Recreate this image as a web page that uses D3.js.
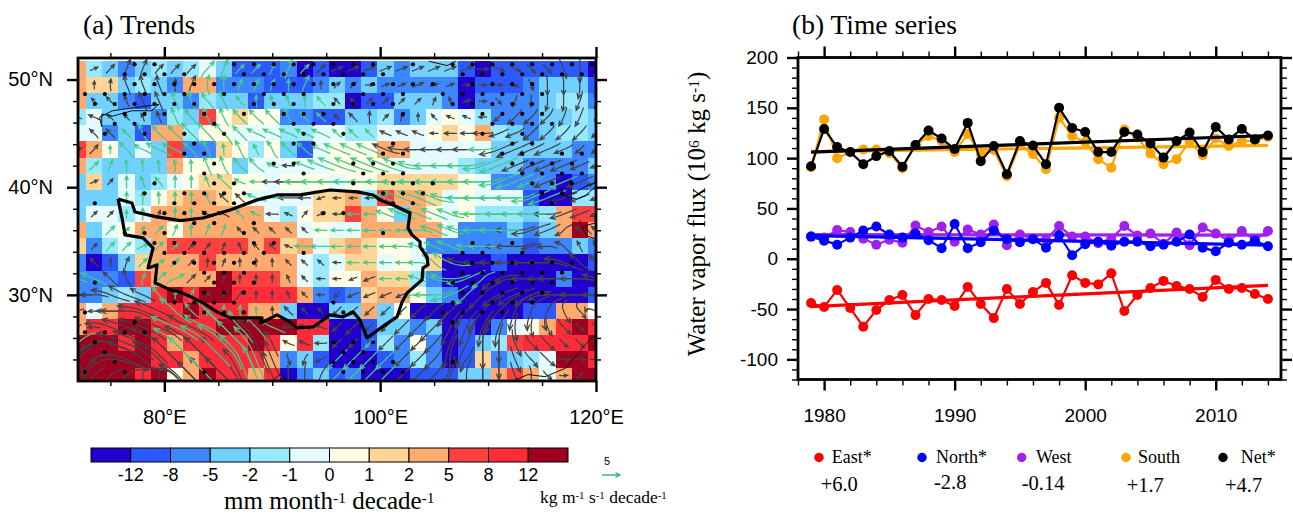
<!DOCTYPE html>
<html><head><meta charset="utf-8">
<script src="https://cdn.jsdelivr.net/npm/d3@7"></script>
<style>
html,body{margin:0;padding:0;background:#fff}
svg{display:block}
.sans{font-family:"Liberation Sans",Arial,sans-serif}
.serif{font-family:"Liberation Serif","Times New Roman",serif}
</style></head><body>
<svg id="c" width="1293" height="515"></svg>
<script>
// ---------- DATA: panel (a) ----------
// Trend class per grid cell (0 = below -12 ... b = above 12); rows 51N to 22.5N, columns 72E to 120E by 1.5 deg
const cellRows = [
"8432343453 1112010013 2333101111 110",
"8773432882 2211123232 2222011123 331",
"8332133243 3133344011 3332022223 442",
"4533324396 7662211334 2356542223 343",
"5523188466 5554455445 5567684323 443",
"9863539227 6463156668 8555553333 322",
"8433338666 3555556666 5555433322 223",
"3735345677 6656665667 7777652222 012",
"3335467887 6555577849 8875655510 044",
"3554588888 8854677986 3865644434 899",
"8356886888 8888565588 8885222323 8b8",
"7245489999 9897857876 6522222212 232",
"2013788898 8888545775 6570001000 001",
"2221988 88b 9998546687 7420000000 200",
"2234 3ababb aaaa821278 8632000000 001",
"858aaaabaa a883003 38 3600000001 188",
"8aabbaaaab bbbbaa0013 3230102568 aba",
"bbbaba8aaa aba6a40014 2620134 9aa aab",
"bbbbbaa8aa aa82310001 2420172345 bba",
"bbbba b68ba a8a0231200 0111338985 8bb"
].map(s => s.replace(/\s/g, ""));
const cellLons = d3.range(33).map(i => 72 + 1.5 * i);
const cellLats = d3.range(20).map(i => 51 - 1.5 * i);
const classLabels = ["-12","-8","-5","-2","-1","0","1","2","5","8","12"];
const classColors = ["#2200cc","#2b58ff","#3c86ff","#70d0ff","#98e8ff","#e5fbff","#fffde6","#ffd596","#ffab70","#ff4040","#ff2b38","#a00020"];

// Vapour-flux trend per cell: direction (hex, 16 compass points counter-clockwise from east), magnitude, g = green class
const windRows = [
". 11 22 33 33 22 22 22 23g 33g 22g 22g 32g 33g 22g 22 12 12 12 12 12 12 12 12 12 02 f2 f2 e2 e2 d3 c4 c3",
". 41 42 53 53 53 42 33 43g 43g 32g 32g 32g 42g 33g 41 21 21 01 11 11 12 11 11 01 01 01 f1 d2 c3 c3 c4 c4",
". 61 62 52 53 53 53g 53g 63g 53g 62g 42g 52g 52g 42g 62g 61 61 21 21 21 21 31 51 11 01 e1 b2 c2 c3 c3 b3 c3",
"71 72 61 61 51 52 53g 63g 53g 53g 63g 63g 63g 53g 62g 62g 61 62 42 21 31 41 61 71 71 81 a2 a3 a3 a3 b3 b3 c2",
". 62 62 62g 53g 63g 63g 64g 64g 64g 63g 73g 73g 73g 73g 73g 62g 62g 62g 72 72 72 81 82 82 83 93 93 a3 a3 a3 a3 a2",
"11 22 41g 63g 73g 74g 74g 63g 53g 42g 53g 52g 53g 63g 63g 73g 74g 74g 74g 74 84 84 84 84 84 84g 95 95 94 94 93 a2 a2",
". 22g 32g 42g 42g 42g 42g 42g 53g 53g 63g 63g 72g 82 73g 74g 75g 75g 75g 75g 75g 85g 85g 85g 85g 95g 95g 94 94 94 94 93 92",
". 11 21 42g 52g 62g 42g 42g 52g 63g 72g 82g 83 84 85g 85g 85g 85g 85g 85g 85g 85g 85g 85g 85g 85g 95g 95g 94g 94 94g 94 93",
". . . 42g 42g 42g 42g 42g 52g 62 62 73g 83g 83 82 91 81 81 81 73g 75g 75g 75g 85g 85g 85g 85g 85g 95g 95g 94 93 92",
". 21 21 41g 42g 31 42g 42g 72 72 62g 72g 82 71 21 11 81 82g 82g 73g 74g 74g 74g 74g 84g 85g 84g 84g 84g 84 94 93 92",
". . 22g 21g 31g 22g 32g 42g 32g 32g 61 61 61 61 61 82g 82g 82g 82g 82g 82g 84g 74g 74g 85g 85g 85g 85 95 94 a3 62 62",
". 21 22g 22g 12g 22g 21g 21 21 31 51 61 61 71 83g 83g 82g 82g 82g 82g 83g 73g 73g 74g 83g 84g 84 85 93 83 63 52 52",
". 62 41 32 22g 12g 22g 21 41 31 41 41 41 61 61 61 81 82g 82g 82g 82g 83g 64g 75g 85 85 85 85 85 85 75 64 63",
"73g 74g 63 53 32g 23g 13g 22 21 31 41 41 41 51 61 81 81 91 92 82g 82g 73g 74g 85g 95g a4g 95 85 85 85 86 85 74",
"84 84 75 75 74 63g 41g 32g 21 21 22 41 41 51 61 81 a1 92 92 92 92 84g 85g 95g a4g a5 95 95 95 85 85 85 84",
"92 82 84 86 76 76 65g 63g 64g 42g 42g 41g 41 62 61 61 a2 a2 a2 a2 a2 a3 a4 a5 a5 a6 a6 b5 b5 b5 d4 e3 74",
"a1 82 76 76 76 76 76g 76 76g 66g 65g 64g 74g 82 72 72 a2 a3 a2 a2 a3 a4 a5 b5 b5 b5 b5 c4 c3 d3 e3 e2 e2",
"a5g 96 77 77 77 67 66g 67 67g 67g 67g 57 54 72 72 82 a2 a2 a2g a3 a3 a3 a4 b6 b6 c6 c5 d4 e3 e3 e2 e2 d2",
"a5 a5 88 78 68 67 67 67g 67 67 57g 58g 55 d2 b2 92 a4g a4g a4g a4g a3 a3 a4 c6 a4 c6 c5 d4 e3 e3 02 02 02",
"c3 a4 a4 a5 c3 c4 65 65 66 66 57 57g 56 c3 c4 b4 a4g a4g a4g a4g a4 a3 a4 b5 c5 c6 c5 d4 c3 e2 01 21 21"
];

// Significance stipples: for each stipple row, the staggered grid columns that carry a dot
const stippleRows = [
[3,4,8,9,10,11,12,13,14,15,17,19,20,21,22,23,24,25,26],
[2,3,4,5,8,9,10,11,12,13,14,15,19,20,21,22,23,24,25],
[3,4,5,6,7,8,9,10,11,12,13,14,15,16,17,18,20,21,22,23],
[0,1,2,3,4,5,7,9,10,11,14,15,16,18,19,20,21,22,23],
[1,2,3,4,5,6,9,10,11,13,14,15,16,19,20,21,22,23],
[2,3,4,6,8,10,11,12,16,20,21,22,23],
[2,3,7,11,12,13,21,22,23,24],
[1,3,5,7,11,13,20,22],
[6,11,12,16,22,23],
[5,6,15,16,21,22,24,25],
[7,10,11,14,15,16,22,23,24,25],
[6,11,14,15,16,22,23,24,25],
[4,7,8,14,16,17,18,23,24,25],
[3,5,6,7,8,15,16,17,23,24],
[1,5,6,7,8,16,17,24],
[4,5,6,12,13],
[6,7,9],
[2,3,4,8,15],
[4,5,6,9,10,20,22],
[4,5,6,7,8,9,11,19,20,22],
[5,6,7,8,9,20,21,22,23,24,25],
[6,7,8,19,20,21,22,23,24],
[1,7,8,9,19,20,21,22,23,24],
[6,7,8,19,20,21,22,23],
[5,6,7,8,13,19,21,22,23],
[0,6,7,8,13,18,19,20,21],
[3,19],
[0,1,2,3],
[1,13,14,15],
[1,13,14],
[2,13,14,15,16,19],
[0,2,6,13,14,15,16]
];

// Tibetan Plateau outline and thin coast / lake outlines as [lon, lat]
const plateauLon = [75.71,77,77.28,79.32,81.5,83.58,86.09,88.59,90.44,92.57,95.35,97.86,99.34,99.99,101.19,102.77,102.58,102.95,103.7,103.7,104.34,104.44,103.97,103.88,102.49,102.03,101.56,100.45,98.78,98.41,98.13,97.49,96.56,95.35,94.71,93.78,92.3,91.65,90.44,89.15,88.87,89.05,87.66,86.09,84.88,83.58,82.66,81.45,80.53,79.6,79.14,79.32,78.49,78.95,78.02,76.36,76.08,75.71];
const plateauLat = [38.91,38.54,37.7,37.24,36.9,37.14,37.89,38.82,39.28,39.28,39.74,39.56,39.28,38.82,38.35,37.61,36.22,35.57,34.92,34.45,33.52,32.78,32.5,31.39,30.18,29.34,27.95,27.21,26,26.93,27.67,28.42,27.95,28.14,27.67,27.02,26.93,27.49,28.14,27.49,27.39,27.86,27.86,27.86,28.42,29.25,29.72,30.27,30.46,30.92,31.11,32.78,32.5,34.36,35.29,35.57,37.14,38.91];
const thinLines = [
 [[74.2,45.6],[74,46.5],[75.2,47.1],[79.5,47.7],[78.8,47.1],[77,47.1],[75.2,46.6],[74.2,46.8],[74.2,45.6]],
 [[104.5,51.7],[106.2,51.3],[107,51.7]],
 [[117.1,39.2],[118.2,38.9],[119,39.2],[120,40.1]],
 [[116.7,40],[117.1,39.2],[118.2,39.6],[119.1,40.1],[120,40.4]],
 [[118.5,36.9],[119.1,35.5],[120,35.2]],
 [[119.6,35.6],[118.9,36.4],[120,36.7]],
 [[112.5,22.1],[113.7,22.6],[115.3,22.4],[117.2,23.2],[119.3,25.7],[120,26.4]],
 [[90,22],[90.8,22.7],[91.3,22.1]]
];

// ---------- DATA: panel (b) ----------
const years = d3.range(1979, 2015);
const eastFlux = [-44,-48,-31,-49,-67.5,-51,-41,-36,-56,-40,-41,-47,-28,-45,-59,-30,-45,-33,-24,-46,-16.5,-24,-25.5,-14.5,-52,-36,-29,-22,-27,-30,-38,-21,-30,-29,-35,-40];
const northFlux = [22,18,14,21,28,32,24,21,25,18.5,10.5,34.5,10.5,16.5,28,19.5,16.5,19.5,11,23.5,3.5,14.5,17,13,17,17,12.5,14,17,24,11,7.5,16,14,18,12.5];
const westFlux = [22,21,28.5,26.5,20,14,19,16,33,26.5,32,17,29,24,34,13.5,24,20,19,32.5,22,22,15.5,20,32.5,23,25,15,26,13.5,31,25,18,27.5,19,27.5];
const southFlux = [91,138.5,100,106,108.5,108.5,105,90,113,122,117,106,124,104,108,82,113,104,89,140,122,116,99,90.5,128.5,120.5,104.5,94,99,116,103,119.5,112,117,117,121];
const netFlux = [92,129,111,106,94,102,107,91.5,113,127.5,119.5,109,135,97,112,84,117,112.5,94,150,130,126,106,106,126,123.5,114.5,100.5,117,125.5,106,131,118.5,129,118.5,122.5];
const seriesNames = ["East*","North*","West","South","Net*"];
const seriesTrends = ["+6.0","-2.8","-0.14","+1.7","+4.7"];
const trendStart = {East:-47.5, West:24, North:23, South:106.5, Net:106};
const trendEnd = {East:-26.5, West:23.5, North:13.5, South:112.7, Net:122.5};

// ---------- scales ----------
const svg = d3.select("#c");
const FRAME = {l:78, r:596, t:58, b:381};
const xMap = d3.scaleLinear().domain([72,120]).range([FRAME.l, FRAME.r]);
const yMap = d3.scaleLinear().domain([52,22]).range([FRAME.t, FRAME.b]);
const clr = d3.scaleOrdinal().domain(d3.range(12)).range(classColors);

svg.append("defs").append("clipPath").attr("id","mapclip").append("rect")
  .attr("x",FRAME.l).attr("y",FRAME.t).attr("width",FRAME.r-FRAME.l).attr("height",FRAME.b-FRAME.t);
const map = svg.append("g").attr("clip-path","url(#mapclip)");

// cells
cellRows.forEach((row,r) => {
  map.append("g").attr("shape-rendering","crispEdges").selectAll("rect").data(row.split("")).join("rect")
    .attr("x",(d,k)=>xMap(cellLons[k]-0.75))
    .attr("width",(d,k)=>xMap(cellLons[k]+0.75)-xMap(cellLons[k]-0.75)+0.5)
    .attr("y",yMap(cellLats[r]+0.75))
    .attr("height",yMap(cellLats[r]-0.75)-yMap(cellLats[r]+0.75)+0.5)
    .attr("fill",d=>clr(parseInt(d,16)));
});

// curly vectors: each one is traced through the interpolated field
const field = windRows.map(s => s.split(" ").map(t => {
  if (t === ".") return {u:0,v:0,m:0,g:false};
  const a = parseInt(t[0],16)*22.5*Math.PI/180, m = +t[1];
  return {u:m*Math.cos(a), v:m*Math.sin(a), m, g:t.endsWith("g")};
}));
const at = (r,k)=>{ const row = field[Math.max(0,Math.min(19,r))]; return row[Math.max(0,Math.min(row.length-1,k))] || {u:0,v:0}; };
function sample(px,py){
  const c = (xMap.invert(px)-72)/1.5, w = (51-yMap.invert(py))/1.5;
  const c0=Math.floor(c), r0=Math.floor(w), fc=c-c0, fr=w-r0;
  const q=(f)=> (1-fr)*((1-fc)*f(at(r0,c0))+fc*f(at(r0,c0+1))) + fr*((1-fc)*f(at(r0+1,c0))+fc*f(at(r0+1,c0+1)));
  return [q(d=>d.u), -q(d=>d.v)];
}
const UNIT = 5.6, STEP = 2;
function trace(px,py,len,sign,d0){
  let p=[px,py], d=d0; const out=[];
  for(let s=0;s<len;s+=STEP){
    const f=sample(p[0],p[1]), n=Math.hypot(f[0],f[1]);
    if(n>0.2){ d=[f[0]/n,f[1]/n]; }
    p=[p[0]+sign*d[0]*STEP,p[1]+sign*d[1]*STEP]; out.push(p);
  }
  return out;
}
const lineGen = d3.line();
const vecs=[];
field.forEach((row,r)=>row.forEach((c,k)=>{ if(c.m>0) vecs.push({r,k,...c}); }));
vecs.sort((a,b)=>a.g-b.g);
const vecLayer = map.append("g").attr("fill","none").attr("stroke-linecap","round");
vecs.forEach(c=>{
  const px=xMap(cellLons[c.k]), py=yMap(cellLats[c.r]);
  const n=Math.hypot(c.u,c.v), d0=[c.u/n,-c.v/n], L=c.m*c.m*0.9+c.m*2.2+3;
  const back=trace(px,py,L/2,-1,d0).reverse(), fwd=trace(px,py,L/2,1,d0);
  const pts=[...back,[px,py],...fwd];
  const tip=pts[pts.length-1], prev=pts[Math.max(0,pts.length-3)];
  const ang=Math.atan2(tip[1]-prev[1],tip[0]-prev[0]), hl=Math.min(6,3+c.m*0.6);
  const h1=[tip[0]-hl*Math.cos(ang-0.42),tip[1]-hl*Math.sin(ang-0.42)];
  const h2=[tip[0]-hl*Math.cos(ang+0.42),tip[1]-hl*Math.sin(ang+0.42)];
  vecLayer.append("path").attr("d",lineGen(pts)+lineGen([h1,tip,h2]))
    .attr("stroke",c.g?"#45c986":"#444444").attr("stroke-width",1.25);
});

// stipples
stippleRows.forEach((cols,j)=>{
  const lat = 51.415-0.922*j, off = j%2 ? 0.923 : 0;
  map.append("g").selectAll("circle").data(cols).join("circle")
    .attr("cx",n=>xMap(71.72+off+1.842*n)).attr("cy",yMap(lat)).attr("r",2.1).attr("fill","#000");
});

// outlines
const geoLine = d3.line().x(d=>xMap(d[0])).y(d=>yMap(d[1]));
thinLines.forEach(l=>map.append("path").attr("d",geoLine(l)).attr("fill","none").attr("stroke","#111").attr("stroke-width",1));
map.append("path").attr("d",geoLine(plateauLon.map((v,i)=>[v,plateauLat[i]])))
  .attr("fill","none").attr("stroke","#000").attr("stroke-width",3.2).attr("stroke-linejoin","round");

// axes helper
function axisBox(g, x, y, box, xMaj, xMin, yMaj, yMin, xFmt, yFmt, xPad, yPad, lenMaj, lenMin, fs){
  const style = s => s.call(a=>a.select(".domain").remove()).selectAll("line").attr("stroke","#000");
  const add=(gen,tx,ty,w)=>{ const a=g.append("g").attr("transform",`translate(${tx},${ty})`).call(gen);
    a.call(style); a.selectAll("line").attr("stroke-width",w); return a; };
  add(d3.axisBottom(x).tickValues(xMin).tickSize(lenMin).tickFormat(""),0,box.b,1.4);
  add(d3.axisTop(x).tickValues(xMin).tickSize(lenMin).tickFormat(""),0,box.t,1.4);
  add(d3.axisLeft(y).tickValues(yMin).tickSize(lenMin).tickFormat(""),box.l,0,1.4);
  add(d3.axisRight(y).tickValues(yMin).tickSize(lenMin).tickFormat(""),box.r,0,1.4);
  add(d3.axisTop(x).tickValues(xMaj).tickSize(lenMaj).tickFormat(""),0,box.t,2.4);
  add(d3.axisRight(y).tickValues(yMaj).tickSize(lenMaj).tickFormat(""),box.r,0,2.4);
  const bx=add(d3.axisBottom(x).tickValues(xMaj).tickSize(lenMaj).tickPadding(xPad).tickFormat(xFmt),0,box.b,2.4);
  const lx=add(d3.axisLeft(y).tickValues(yMaj).tickSize(lenMaj).tickPadding(yPad).tickFormat(yFmt),box.l,0,2.4);
  [bx,lx].forEach(a=>a.selectAll("text").attr("fill","#000").attr("class","sans").style("font-size",fs+"px"));
  g.append("rect").attr("x",box.l).attr("y",box.t).attr("width",box.r-box.l).attr("height",box.b-box.t)
    .attr("fill","none").attr("stroke","#000").attr("stroke-width",2.8);
}
axisBox(svg.append("g"), xMap, yMap, FRAME,
  [80,100,120],[75,85,90,95,105,110,115],[30,40,50],[24,26,28,32,34,36,38,42,44,46,48],
  d=>d+"°E", d=>d+"°N", 18, 14, 11, 5, 20);

// titles
const title=(x,y,t)=>svg.append("text").attr("class","serif").attr("x",x).attr("y",y).attr("font-size",27.5).text(t);
title(83,34,"(a) Trends");
title(792,34,"(b) Time series");

// colour bar
const cbX = d3.scaleBand().domain(d3.range(12)).range([91,568]);
svg.append("g").selectAll("rect").data(classColors).join("rect")
  .attr("x",(d,i)=>cbX(i)).attr("y",448).attr("width",cbX.bandwidth()).attr("height",14)
  .attr("fill",d=>d).attr("stroke","#000").attr("stroke-width",1);
svg.append("g").selectAll("text").data(classLabels).join("text").attr("class","sans")
  .attr("x",(d,i)=>cbX(i+1)).attr("y",480.5).attr("text-anchor","middle").attr("font-size",18).text(d=>d);
function sup(parent, parts){ // parts: [text, isSup]
  parts.forEach(([t,s],i)=>{
    const ts=parent.append("tspan").text(t);
    if(s){ ts.attr("dy","-0.4em").attr("font-size","0.62em"); }
    else if(i>0 && parts[i-1][1]){ ts.attr("dy","0.25em"); }
  });
}
sup(svg.append("text").attr("class","serif").attr("x",224).attr("y",509).attr("font-size",25),
  [["mm month",0],["-1",1],[" decade",0],["-1",1]]);
sup(svg.append("text").attr("class","serif").attr("x",540).attr("y",503).attr("font-size",17.5),
  [["kg m",0],["-1",1],["  s",0],["-1",1],[" decade",0],["-1",1]]);
svg.append("text").attr("class","sans").attr("x",607).attr("y",465).attr("text-anchor","middle").attr("font-size",11).text("5");
svg.append("path").attr("d","M602,475H620M615.5,472.5L620,475L615.5,477.5").attr("fill","none").attr("stroke","#3fb47f").attr("stroke-width",1.4);

// ---------- panel (b) ----------
const TS = {l:798, r:1281, t:57.5, b:379.5};
const xTs = d3.scaleLinear().domain([1978,2015]).range([TS.l,TS.r]);
const yTs = d3.scaleLinear().domain([200,-120]).range([TS.t,TS.b]);
const seriesDefs = [
 {key:"East",vals:eastFlux,col:"#ff0000"},
 {key:"West",vals:westFlux,col:"#a020f0"},
 {key:"North",vals:northFlux,col:"#0000ff"},
 {key:"South",vals:southFlux,col:"#ffa500"},
 {key:"Net",vals:netFlux,col:"#000000"}
];
const tsLine = d3.line().x((d,i)=>xTs(years[i])).y(d=>yTs(d));
seriesDefs.forEach(s=>{
  const g=svg.append("g");
  g.append("path").attr("d",tsLine(s.vals)).attr("fill","none").attr("stroke",s.col).attr("stroke-width",2.2);
  g.append("path").attr("d",d3.line().x(d=>xTs(d[0])).y(d=>yTs(d[1]))([[1979,trendStart[s.key]],[2014,trendEnd[s.key]]]))
    .attr("fill","none").attr("stroke",s.col).attr("stroke-width",3.2);
  g.selectAll("circle").data(s.vals).join("circle")
    .attr("cx",(d,i)=>xTs(years[i])).attr("cy",d=>yTs(d)).attr("r",5).attr("fill",s.col);
});
axisBox(svg.append("g"), xTs, yTs, TS,
  [1980,1990,2000,2010], d3.range(1978,2016,2).filter(y=>y%10!==0),
  d3.range(-100,201,50), d3.range(-120,201,10).filter(v=>v%50!==0),
  d=>d, d=>d, 18, 9, 11, 6, 19);
sup(svg.append("text").attr("class","serif").attr("transform","translate(705,214) rotate(-90)").attr("text-anchor","middle").attr("font-size",25),
  [["Water vapor flux (10",0],["6",1],[" kg s",0],["-1",1],[")",0]]);

// legend
const legDot=[819,922,1021.7,1126,1223], legText=[831.7,936,1036,1138,1240.7], legVal=[820.7,934,1021.7,1126.7,1225], legValY=[491,489,490,492,492];
const legCols=["#ff0000","#0000ff","#a020f0","#ffa500","#000000"];
seriesNames.forEach((n,i)=>{
  svg.append("circle").attr("cx",legDot[i]).attr("cy",457.5).attr("r",4.7).attr("fill",legCols[i]);
  svg.append("text").attr("class","serif").attr("x",legText[i]).attr("y",463).attr("font-size",18).text(n);
  svg.append("text").attr("class","serif").attr("x",legVal[i]).attr("y",legValY[i]).attr("font-size",20.5).text(seriesTrends[i]);
});
</script>
</body></html>
